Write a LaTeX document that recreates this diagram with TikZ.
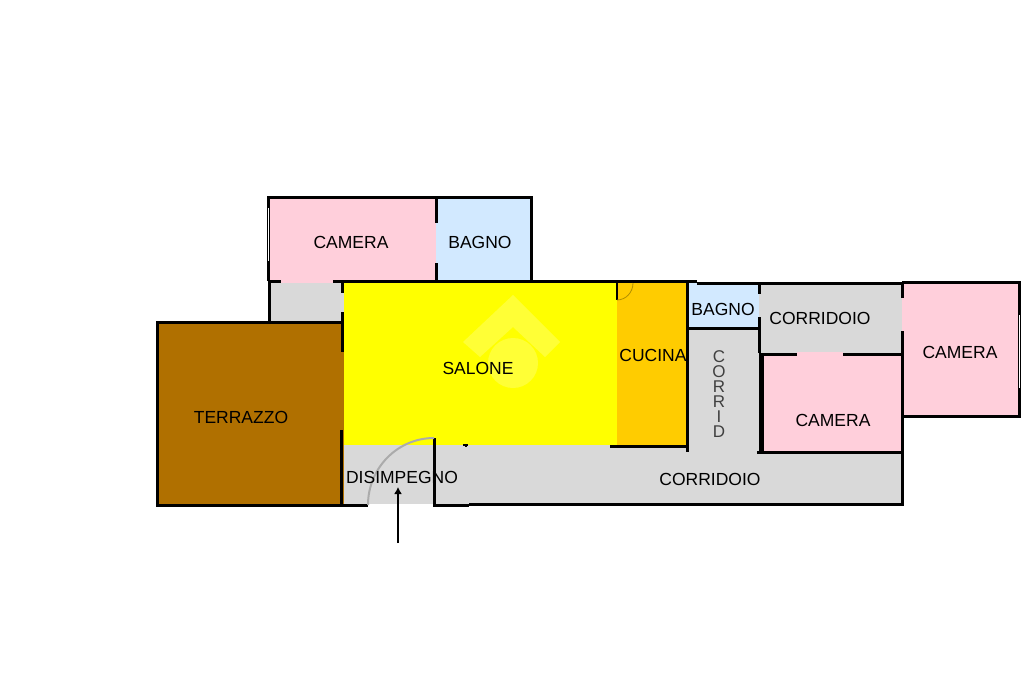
\documentclass[tikz,border=0pt]{standalone}
\usepackage{fontspec}
\usetikzlibrary{arrows.meta}
\setmainfont{Liberation Sans}
\definecolor{pinkroom}{HTML}{FFCFDB}
\definecolor{blueroom}{HTML}{D2E9FF}
\definecolor{greyroom}{HTML}{D9D9D9}
\definecolor{brownroom}{HTML}{B07000}
\definecolor{orangeroom}{HTML}{FFCC00}
\definecolor{yellowroom}{HTML}{FFFF00}
\definecolor{markyellow}{HTML}{FFFF36}
\definecolor{doorgrey}{HTML}{ABABAB}
\tikzset{
	wall/.style={line width=3pt,black},
	thinwall/.style={line width=1.5pt,black},
	window/.style={line width=1pt,white},
	door/.style={line width=2pt,doorgrey},
	room/.style={font=\fontsize{17.5}{20}\selectfont,inner sep=0pt}
}
\begin{document}
\begin{tikzpicture}[x=1pt,y=-1pt]
		\useasboundingbox[fill=white] (0,0) rectangle (1024,682);
		% floors
		\fill[greyroom] (269,281) rectangle (345,322);
		\fill[greyroom] (342,445) rectangle (902,504);
		\fill[greyroom] (687,328) rectangle (759,452);
		\fill[greyroom] (759,283) rectangle (902,354);
		\fill[pinkroom] (268,197) rectangle (436,281);
		\fill[pinkroom] (762,354) rectangle (902,452);
		\fill[pinkroom] (797,352) rectangle (843,356);
		\fill[pinkroom] (902,282) rectangle (1019,416);
		\fill[pinkroom] (281,279) rectangle (333,283);
		\fill[blueroom] (436,197) rectangle (531,281);
		\fill[blueroom] (687,283) rectangle (759,328);
		\fill[brownroom] (157,322) rectangle (343.5,505);
		\fill[yellowroom] (343.5,282) rectangle (617,445);
		\fill[orangeroom] (617,282) rectangle (687,446);
		% watermark
		\fill[markyellow] (513,295) -- (560,342) -- (545,357) -- (513,327) -- (480,357) -- (463,342) -- cycle;
		\fill[markyellow] (513,363) circle (25);
		% upper rooms
		\draw[wall] (268,281) -- (268,197) -- (531,197) -- (531,281);
		\draw[wall] (268,281) -- (281,281);
		\draw[wall] (333,281) -- (697,281);
		\draw[wall] (436,197) -- (436,223);
		\draw[wall] (436,263) -- (436,281);
		\draw[window] (268,208) -- (268,261);
		\draw[wall] (269,281) -- (269,322);
		% terrace
		\draw[wall] (342,322) -- (157,322) -- (157,505) -- (368,505);
		\draw[wall] (342,281) -- (342,293);
		\draw[wall] (342,312) -- (342,352);
		\draw[wall] (341,430) -- (341,505);
		% entrance
		\draw[wall] (434,438) -- (434,505) -- (469,505);
		\draw[door] (368,505) arc[start angle=180,end angle=90,x radius=66,y radius=-67];
		\draw[thinwall] (463,445) -- (468,445);
		\draw[thinwall] (466,445) -- (466,447);
		\coordinate (entry) at (398,543);
		\coordinate (inside) at (398,487);
		\draw[line width=1.5pt,-{Latex[length=7pt,width=8pt]}] (entry) -- (inside);
		% kitchen and corridors
		\draw[wall] (610,446) -- (687,446);
		\draw[wall] (687,283) -- (687,452);
		\draw[wall] (687,328) -- (759,328);
		\draw[wall] (697,283) -- (902,283);
		\draw[wall] (759,283) -- (759,294);
		\draw[wall] (759,317) -- (759,353);
		\draw[wall] (469,504) -- (902,504) -- (902,416);
		\draw[thinwall] (617,282) -- (617,300);
		\draw[orangeroom!70!black,line width=.8pt] (617,300) arc[start angle=-90,end angle=0,x radius=16,y radius=-17];
		% right rooms
		\draw[line width=5pt] (761.5,353) -- (761.5,453);
		\draw[wall] (757,452) -- (902,452);
		\draw[wall] (759,354) -- (797,354);
		\draw[wall] (843,354) -- (902,354);
		\draw[wall] (902,282) -- (1019,282) -- (1019,416) -- (902,416) -- (902,331);
		\draw[wall] (902,282) -- (902,298);
		\draw[window] (1019,315) -- (1019,388);
		% labels
		\node[room] (cameraa) at (351,242) {CAMERA};
		\node[room] (bagnoa) at (480,242) {BAGNO};
		\node[room] (salone) at (478,368) {SALONE};
		\node[room] (terrazzo) at (241,417) {TERRAZZO};
		\node[room] (cucina) at (653,355) {CUCINA};
		\node[room] (bagnob) at (723,309) {BAGNO};
		\node[room] (corridoioa) at (820,318) {CORRIDOIO};
		\node[room] (camerab) at (960,352) {CAMERA};
		\node[room] (camerac) at (833,420) {CAMERA};
		\node[room] (disimpegno) at (402,477) {DISIMPEGNO};
		\node[room] (corridoiob) at (710,479) {CORRIDOIO};
		\node[room,black!75,align=center,font=\fontsize{17}{15}\selectfont] (corrid) at (719,394) {C\\O\\R\\R\\I\\D};
		\end{tikzpicture}
\end{document}
